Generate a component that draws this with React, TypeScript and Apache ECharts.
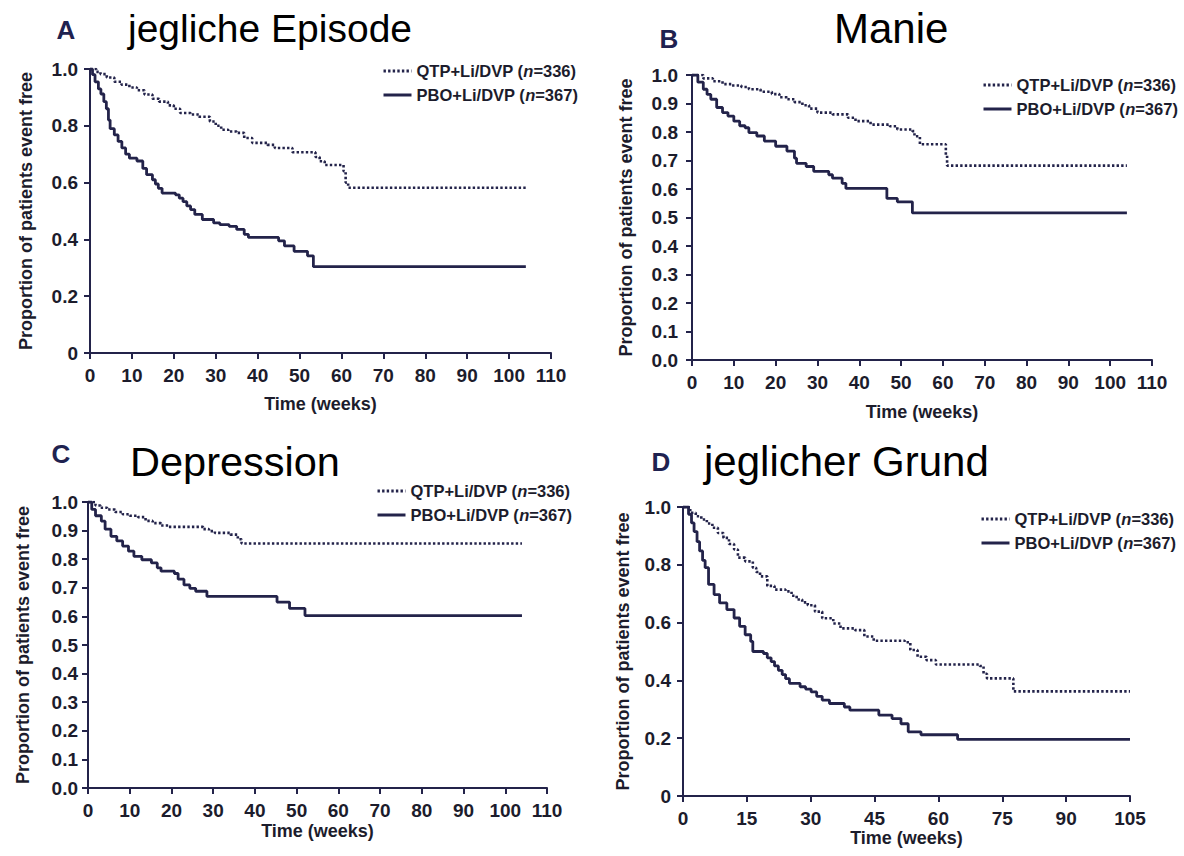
import React, { useEffect, useRef } from 'react';
import * as echarts from 'echarts';

// ---------- labels ----------
const QTP_NAME = 'QTP+Li/DVP (n=336)';
const PBO_NAME = 'PBO+Li/DVP (n=367)';
const panelLetters = ['A', 'B', 'C', 'D'];
const panelTitles = ['jegliche Episode', 'Manie', 'Depression', 'jeglicher Grund'];
const yAxisTitle = 'Proportion of patients event free';
const xAxisTitle = 'Time (weeks)';

// ---------- axis settings ----------
const xMaxWeeks = [110, 110, 110, 105];
const xIntervals = [10, 10, 10, 15];
const yIntervals = [0.2, 0.1, 0.1, 0.2];

// ---------- data: [week, proportion event free] (Kaplan-Meier steps) ----------
const aQtp: [number, number][] = [
  [0, 1], [1.5, 0.99], [2.5, 0.982], [4, 0.97], [5.8, 0.955], [7.5, 0.945], [9.4, 0.935],
  [11.2, 0.925], [13, 0.91], [14.9, 0.895], [16.5, 0.885], [18.6, 0.872], [20, 0.86],
  [21.5, 0.845], [24, 0.84], [26, 0.832], [28.6, 0.815], [30, 0.8], [31.3, 0.786], [33, 0.78],
  [35, 0.775], [36.8, 0.757], [38.7, 0.74], [42.3, 0.733], [44.1, 0.722], [48.3, 0.707],
  [53.8, 0.69], [54.8, 0.675], [56, 0.662], [60.5, 0.64], [61, 0.6], [61.6, 0.582], [104, 0.582],
];
const aPbo: [number, number][] = [
  [0, 1], [0.6, 0.98], [1.2, 0.955], [2, 0.93], [2.6, 0.912], [3.3, 0.885], [3.9, 0.86],
  [4.4, 0.82], [4.8, 0.79], [5.8, 0.768], [6.7, 0.745], [7.6, 0.722], [8.5, 0.7], [9.4, 0.686],
  [11.2, 0.676], [12.6, 0.65], [13.5, 0.628], [14.9, 0.61], [15.6, 0.595], [16.3, 0.58],
  [17.2, 0.563], [20.4, 0.557], [21.3, 0.545], [22.2, 0.533], [23.1, 0.518], [24, 0.505],
  [25, 0.488], [26.8, 0.47], [29.5, 0.458], [31, 0.452], [33.2, 0.446], [35, 0.435],
  [36.8, 0.418], [37.8, 0.407], [45, 0.395], [46.4, 0.377], [48.7, 0.358], [51.9, 0.342],
  [53.3, 0.304], [104, 0.304],
];
const bQtp: [number, number][] = [
  [0, 1], [2.7, 0.988], [5, 0.978], [7.3, 0.968], [9.5, 0.963], [11.8, 0.958], [13.6, 0.95],
  [16.4, 0.941], [19.1, 0.933], [20.9, 0.922], [22.7, 0.915], [24.5, 0.905], [26.4, 0.894],
  [28, 0.882], [30, 0.868], [33.6, 0.862], [37.3, 0.85], [39.1, 0.838], [42.7, 0.826],
  [47.3, 0.82], [49.1, 0.809], [52.7, 0.803], [53.2, 0.785], [54.5, 0.757], [60.7, 0.72],
  [61, 0.682], [104, 0.682],
];
const bPbo: [number, number][] = [
  [0, 1], [1.4, 0.975], [2.7, 0.95], [3.6, 0.932], [4.5, 0.915], [5.9, 0.886], [7.3, 0.868],
  [8.6, 0.856], [10, 0.838], [11.4, 0.822], [12.7, 0.815], [13.6, 0.798], [15.5, 0.786],
  [17.3, 0.768], [20, 0.75], [22.7, 0.733], [24.5, 0.708], [25, 0.69], [27.3, 0.679],
  [29.1, 0.662], [32.7, 0.65], [33.6, 0.638], [35.9, 0.62], [36.8, 0.602], [46.6, 0.567],
  [49.1, 0.555], [52.7, 0.516], [104, 0.516],
];
const cQtp: [number, number][] = [
  [0, 1], [1.8, 0.988], [3, 0.98], [4.6, 0.974], [6.5, 0.965], [8.3, 0.957], [10, 0.952],
  [12, 0.947], [13.8, 0.934], [15.5, 0.926], [17.5, 0.918], [19.3, 0.913], [27.6, 0.905],
  [29, 0.898], [30.4, 0.892], [34.1, 0.886], [35.9, 0.87], [36.8, 0.855], [104, 0.855],
];
const cPbo: [number, number][] = [
  [0, 1], [0.9, 0.974], [1.8, 0.952], [3.2, 0.933], [4.1, 0.905], [5.5, 0.88], [6.9, 0.864],
  [8.3, 0.846], [9.7, 0.828], [11, 0.81], [12.9, 0.798], [15.2, 0.787], [16.6, 0.77],
  [17.5, 0.758], [20.7, 0.75], [21.6, 0.73], [23, 0.71], [24.4, 0.698], [25.8, 0.688],
  [28.5, 0.67], [45.3, 0.65], [48.3, 0.628], [52, 0.603], [104, 0.603],
];
const dQtp: [number, number][] = [
  [0, 1], [1.7, 0.98], [3, 0.968], [4.3, 0.957], [5.6, 0.943], [6.9, 0.928], [8.2, 0.91],
  [9.5, 0.893], [10.8, 0.872], [12, 0.853], [12.9, 0.825], [14.6, 0.812], [16.4, 0.79],
  [17.2, 0.775], [18.1, 0.76], [19.8, 0.727], [21.5, 0.714], [24.1, 0.708], [25.5, 0.693],
  [26.7, 0.68], [28, 0.67], [29.3, 0.66], [31, 0.638], [32.7, 0.615], [35.3, 0.597],
  [37, 0.58], [40.4, 0.574], [42.6, 0.552], [44.8, 0.537], [52.1, 0.532], [53.4, 0.505],
  [55.1, 0.482], [57.2, 0.47], [59.4, 0.455], [69.7, 0.45], [70.6, 0.423], [71.4, 0.407],
  [77.6, 0.362], [105, 0.362],
];
const dPbo: [number, number][] = [
  [0, 1], [1.3, 0.975], [2, 0.945], [2.6, 0.915], [3.3, 0.88], [3.9, 0.848], [4.6, 0.815],
  [5.2, 0.79], [6, 0.732], [7.3, 0.697], [8.6, 0.668], [10.3, 0.645], [12, 0.616],
  [13.3, 0.587], [14.6, 0.558], [15.9, 0.535], [16.4, 0.5], [18.9, 0.493], [19.8, 0.478],
  [20.7, 0.465], [21.5, 0.45], [22.4, 0.435], [23.3, 0.42], [24.1, 0.406], [25, 0.39],
  [27.5, 0.378], [28.8, 0.37], [30.1, 0.36], [31.4, 0.345], [32.7, 0.332], [34.4, 0.32],
  [37.9, 0.308], [39.2, 0.297], [46, 0.28], [49.1, 0.268], [51.2, 0.25], [52.9, 0.222],
  [55.9, 0.212], [64.5, 0.196], [105, 0.196],
];

const qtpSeries = [aQtp, bQtp, cQtp, dQtp];
const pboSeries = [aPbo, bPbo, cPbo, dPbo];

// ---------- layout / style (not data) ----------
const NAVY = '#23234a';
const TEXT = '#1c1c2c';
const FONT = '"Liberation Sans", Arial, Helvetica, sans-serif';

const grids = [
  { left: 90, top: 69, width: 461, height: 284 },
  { left: 692, top: 75, width: 460, height: 285 },
  { left: 88, top: 502, width: 459, height: 286 },
  { left: 683, top: 507, width: 447, height: 289 },
];
const yNameGaps = [55, 57, 56, 51];
const yLabelMargins = [12, 14, 10, 12];
const xNameGaps = [42, 43, 34, 31];
const legendPos = [
  { left: 382, top: 62 },
  { left: 982, top: 76 },
  { left: 376, top: 482 },
  { left: 980, top: 510 },
];
const letterPos = [
  [66, 30], [669, 39], [61, 454], [661, 462],
];
const titlePos = [
  [128, 28], [834, 28], [130, 461], [704, 461],
];
const titleSizes = [39, 42, 41.5, 42];

export default function App() {
  const ref = useRef<HTMLDivElement>(null);

  useEffect(() => {
    if (!ref.current) return;
    const chart = echarts.init(ref.current, undefined, { renderer: 'svg' });

    const labelStyle = {
      fontSize: 19,
      fontWeight: 'bold' as const,
      color: TEXT,
      fontFamily: FONT,
    };
    const nameStyle = {
      fontSize: 18,
      fontWeight: 'bold' as const,
      color: TEXT,
      fontFamily: FONT,
    };

    const xAxis = grids.map((_, i) => ({
      type: 'value' as const,
      gridIndex: i,
      min: 0,
      max: xMaxWeeks[i],
      interval: xIntervals[i],
      name: xAxisTitle,
      nameLocation: 'middle' as const,
      nameGap: xNameGaps[i],
      nameTextStyle: { ...nameStyle },
      axisLine: { show: true, onZero: false, lineStyle: { color: NAVY, width: 2 } },
      axisTick: { show: true, length: 6, lineStyle: { color: NAVY, width: 2 } },
      axisLabel: { ...labelStyle, margin: 13 },
      splitLine: { show: false },
    }));

    const yAxis = grids.map((_, i) => ({
      type: 'value' as const,
      gridIndex: i,
      min: 0,
      max: 1,
      interval: yIntervals[i],
      name: yAxisTitle,
      nameLocation: 'middle' as const,
      nameGap: yNameGaps[i],
      nameTextStyle: { ...nameStyle },
      axisLine: { show: true, lineStyle: { color: NAVY, width: 2 } },
      axisTick: { show: true, length: 6, lineStyle: { color: NAVY, width: 2 } },
      axisLabel: {
        ...labelStyle,
        margin: yLabelMargins[i],
        formatter: (v: number) =>
          v === 0 && yIntervals[i] === 0.2 ? '0' : v.toFixed(1),
      },
      splitLine: { show: false },
    }));

    const series: any[] = [];
    grids.forEach((_, i) => {
      series.push({
        type: 'line',
        name: QTP_NAME,
        xAxisIndex: i,
        yAxisIndex: i,
        data: qtpSeries[i],
        step: 'end',
        symbol: 'none',
        lineStyle: { color: NAVY, width: 2.6, type: [2.4, 2.2] },
        itemStyle: { color: NAVY },
      });
      series.push({
        type: 'line',
        name: PBO_NAME,
        xAxisIndex: i,
        yAxisIndex: i,
        data: pboSeries[i],
        step: 'end',
        symbol: 'none',
        lineStyle: { color: NAVY, width: 2.8, type: 'solid' },
        itemStyle: { color: NAVY },
      });
    });

    const legend = legendPos.map((p) => ({
      orient: 'vertical' as const,
      left: p.left,
      top: p.top,
      itemWidth: 28,
      itemHeight: 12,
      itemGap: 6,
      padding: 0,
      data: [QTP_NAME, PBO_NAME],
      itemStyle: { opacity: 0, borderWidth: 0 },
      lineStyle: { width: 3 },
      formatter: (name: string) => name.replace('(n=', '({i|n}='),
      textStyle: {
        fontSize: 16.5,
        fontWeight: 'bold' as const,
        color: TEXT,
        fontFamily: FONT,
        lineHeight: 18,
        rich: {
          i: {
            fontSize: 16.5,
            fontWeight: 'bold' as const,
            fontStyle: 'italic' as const,
            color: TEXT,
            fontFamily: FONT,
            lineHeight: 18,
          },
        },
      },
    }));

    const graphic: any[] = [];
    panelLetters.forEach((l, i) => {
      graphic.push({
        type: 'text',
        x: letterPos[i][0],
        y: letterPos[i][1],
        style: {
          text: l,
          fontSize: 26,
          fontWeight: 'bold',
          fontFamily: FONT,
          fill: '#1f2250',
          align: 'center',
          verticalAlign: 'middle',
        },
      });
      graphic.push({
        type: 'text',
        x: titlePos[i][0],
        y: titlePos[i][1],
        style: {
          text: panelTitles[i],
          fontSize: titleSizes[i],
          fontFamily: FONT,
          fill: '#000000',
          align: 'left',
          verticalAlign: 'middle',
        },
      });
    });

    chart.setOption({
      animation: false,
      backgroundColor: '#ffffff',
      grid: grids.map((g) => ({ ...g, containLabel: false, outerBoundsMode: 'none' })),
      xAxis,
      yAxis,
      series,
      legend,
      graphic,
    });

    return () => {
      chart.dispose();
    };
  }, []);

  return (
    <div
      ref={ref}
      style={{ position: 'fixed', left: 0, top: 0, width: 1184, height: 856, background: '#fff' }}
    />
  );
}
